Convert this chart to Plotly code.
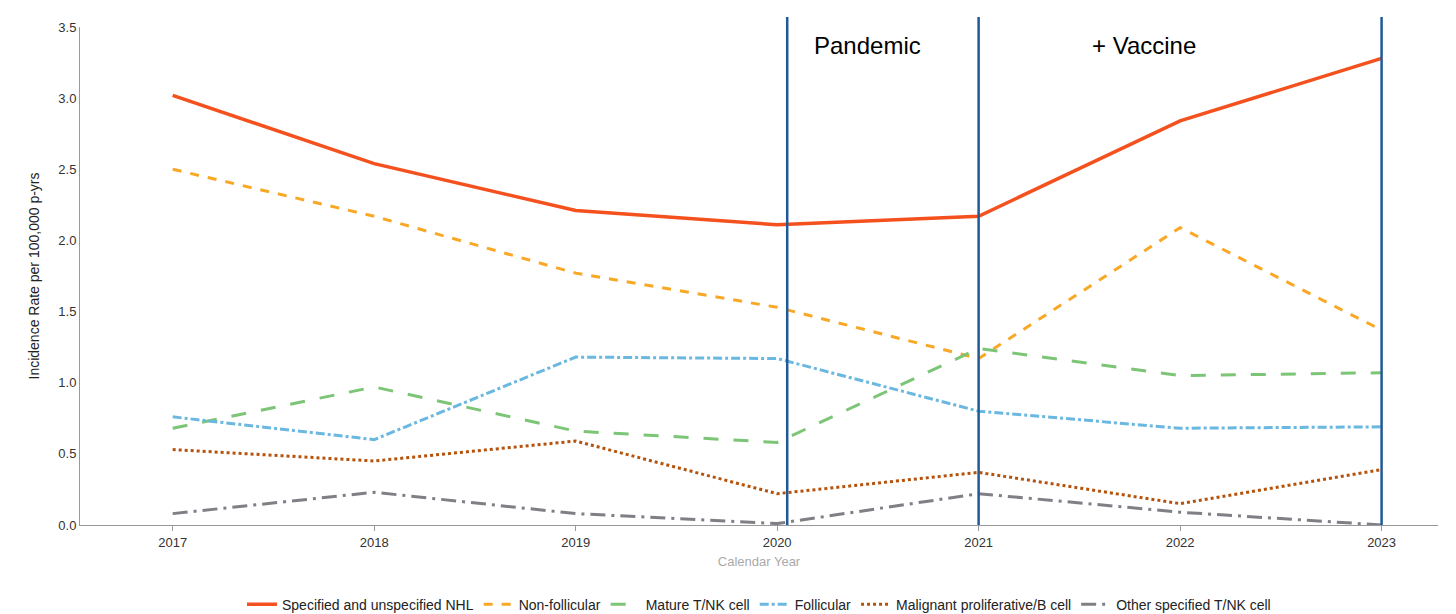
import plotly.graph_objects as go

years = [2017, 2018, 2019, 2020, 2021, 2022, 2023]
specified_nhl = [3.02, 2.54, 2.21, 2.11, 2.17, 2.84, 3.28]
non_follicular = [2.50, 2.17, 1.77, 1.53, 1.17, 2.09, 1.37]
mature_tnk = [0.68, 0.97, 0.66, 0.58, 1.24, 1.05, 1.07]
follicular = [0.76, 0.60, 1.18, 1.17, 0.80, 0.68, 0.69]
malignant_b = [0.53, 0.45, 0.59, 0.22, 0.37, 0.15, 0.39]
other_tnk = [0.08, 0.23, 0.08, 0.01, 0.22, 0.09, 0.00]

series = [
    ("Specified and unspecified NHL", specified_nhl, "#f4511e", "solid", 3.5),
    ("Non-follicular", non_follicular, "#f9a825", "dash", 3),
    ("Mature T/NK cell", mature_tnk, "#7cc576", "longdash", 3),
    ("Follicular", follicular, "#6ab7e0", "dashdot", 3),
    ("Malignant proliferative/B cell", malignant_b, "#b5530c", "dot", 3),
    ("Other specified T/NK cell", other_tnk, "#7f7f85", "longdashdot", 3),
]

fig = go.Figure()
for name, vals, color, dash, w in series:
    fig.add_trace(go.Scatter(x=years, y=vals, name=name, mode="lines",
                             line=dict(color=color, dash=dash, width=w)))

for xv in [2020.05, 2021, 2023]:
    fig.add_shape(type="line", x0=xv, x1=xv, y0=0, y1=1.02, yref="paper",
                  line=dict(color="#1f5a96", width=2.5))

fig.add_annotation(x=2020.45, y=3.37, text="Pandemic", showarrow=False,
                   font=dict(size=24, color="black"))
fig.add_annotation(x=2021.82, y=3.37, text="+ Vaccine", showarrow=False,
                   font=dict(size=24, color="black"))

fig.update_layout(
    width=1456, height=614, plot_bgcolor="white", paper_bgcolor="white",
    font=dict(family="Liberation Sans, Arial", size=13, color="#333"),
    margin=dict(l=72, r=26, t=19, b=97, autoexpand=False),
    legend=dict(orientation="h", x=0.5, xanchor="center", y=-0.16, yanchor="middle",
                font=dict(size=14, color="#222")),
    xaxis=dict(range=[2016.54, 2023.28], tickvals=years, showgrid=False,
               showline=True, linecolor="#999", ticks="outside", tickcolor="#999",
               title=dict(text="Calendar Year", font=dict(size=13, color="#aaa"), standoff=8)),
    yaxis=dict(range=[0, 3.5], dtick=0.5, tickformat=".1f", showgrid=False,
               showline=True, linecolor="#999", zeroline=False,
               title=dict(text="Incidence Rate per 100,000 p-yrs", font=dict(size=14, color="#222"))),
)
fig.write_html("out.html")
